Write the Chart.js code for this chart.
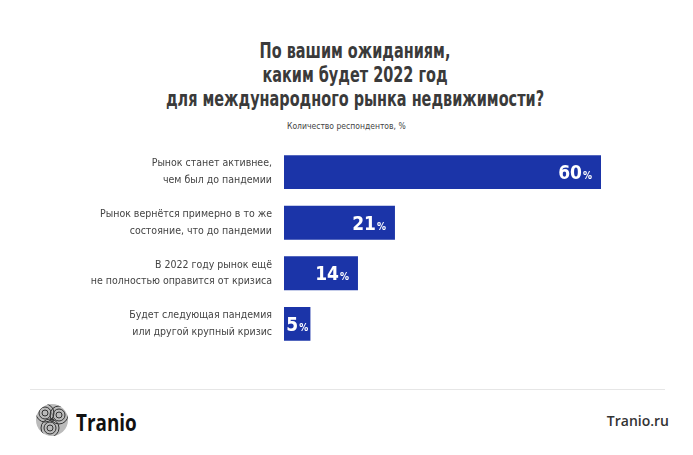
<!DOCTYPE html>
<html>
<head>
<meta charset="utf-8">
<script src="https://cdn.jsdelivr.net/npm/chart.js"></script>
<style>
  body { margin: 0; background: #fff; width: 693px; height: 455px; overflow: hidden; position: relative;
         font-family: "DejaVu Sans Condensed", "Roboto", sans-serif; }
  .title { position: absolute; left: 55px; width: 600px; top: 39px; text-align: center; white-space: nowrap;
           font-size: 22px; font-weight: bold; color: #3a3a3a; line-height: 24px;
           transform: scaleX(0.73); transform-origin: 300px 0; }
  .sub { position: absolute; left: 287px; top: 121px; font-size: 8.5px; color: #444; white-space: nowrap; }
  #chartBox { position: absolute; left: 0; top: 118px; width: 693px; height: 260px; }
  .rule { position: absolute; left: 30px; right: 28px; top: 389px; height: 1px; background: #e6e6e6; }
  .brand { position: absolute; left: 76px; top: 406px; font-family: "Open Sans", sans-serif;
           font-size: 23px; font-weight: bold; color: #111; transform: scaleX(0.82); transform-origin: 0 0; }
  .site { position: absolute; right: 24px; top: 411px; font-family: "Open Sans", sans-serif;
          font-size: 14px; font-weight: 600; color: #333; }
  .logo { position: absolute; left: 35px; top: 403px; }
</style>
</head>
<body>
<div class="title">По вашим ожиданиям,<br>каким будет 2022 год<br>для международного рынка недвижимости?</div>
<div class="sub">Количество респондентов, %</div>
<div id="chartBox"><canvas id="barChart"></canvas></div>
<div class="rule"></div>
<svg class="logo" width="34" height="34" viewBox="0 0 34 34">
  <defs><clipPath id="c"><circle cx="17" cy="17" r="16"/></clipPath></defs>
  <circle cx="17" cy="17" r="16" fill="#bbb"/>
  <g clip-path="url(#c)" fill="none" stroke="#333" stroke-width="1">
    <circle cx="10" cy="10" r="3"/><circle cx="10" cy="10" r="6"/><circle cx="10" cy="10" r="9"/>
    <circle cx="24" cy="12" r="3"/><circle cx="24" cy="12" r="6"/><circle cx="24" cy="12" r="9"/>
    <circle cx="15" cy="25" r="3"/><circle cx="15" cy="25" r="6"/><circle cx="15" cy="25" r="9"/>
    <circle cx="17" cy="17" r="1.5"/>
  </g>
</svg>
<div class="brand">Tranio</div>
<div class="site">Tranio.ru</div>
<script>
const categories = [
  ["Рынок станет активнее,", "чем был до пандемии"],
  ["Рынок вернётся примерно в то же", "состояние, что до пандемии"],
  ["В 2022 году рынок ещё", "не полностью оправится от кризиса"],
  ["Будет следующая пандемия", "или другой крупный кризис"]
];
const values = [60, 21, 14, 5];
const valueMax = 60;

const FONT = "'DejaVu Sans Condensed', sans-serif";

const valueLabels = {
  id: "valueLabels",
  afterDatasetsDraw(chart) {
    const ctx = chart.ctx;
    const meta = chart.getDatasetMeta(0);
    ctx.save();
    ctx.fillStyle = "#fff";
    ctx.textBaseline = "alphabetic";
    ctx.textAlign = "left";
    meta.data.forEach((bar, i) => {
      const num = String(values[i]);
      ctx.font = "bold 10px " + FONT;
      const pw = ctx.measureText("%").width;
      ctx.font = "bold 19px " + FONT;
      const nw = ctx.measureText(num).width;
      const total = nw + 1 + pw;
      const barW = bar.x - bar.base;
      let start = bar.x - 9 - total;
      if (barW < total + 14) start = bar.base + (barW - total) / 2;
      ctx.fillText(num, start, bar.y + 7);
      ctx.font = "bold 10px " + FONT;
      ctx.fillText("%", start + nw + 1, bar.y + 7);
    });
    ctx.restore();
  }
};

new Chart(document.getElementById("barChart"), {
  type: "bar",
  data: {
    labels: categories,
    datasets: [{
      data: values,
      backgroundColor: "#1b34a8",
      borderWidth: 0,
      categoryPercentage: 1,
      barPercentage: 0.67
    }]
  },
  plugins: [valueLabels],
  options: {
    indexAxis: "y",
    responsive: true,
    maintainAspectRatio: false,
    animation: false,
    layout: { padding: { left: 0, right: 92, top: 0, bottom: 0 } },
    plugins: { legend: { display: false }, tooltip: { enabled: false } },
    scales: {
      x: { display: false, min: 0, max: valueMax },
      y: {
        grid: { display: false, drawTicks: false },
        border: { display: false },
        afterFit(scale) { scale.width = 284; },
        ticks: {
          padding: 12,
          color: "#444",
          font: { family: FONT, size: 10.5, lineHeight: 1.6 }
        }
      }
    }
  }
});
</script>
</body>
</html>
